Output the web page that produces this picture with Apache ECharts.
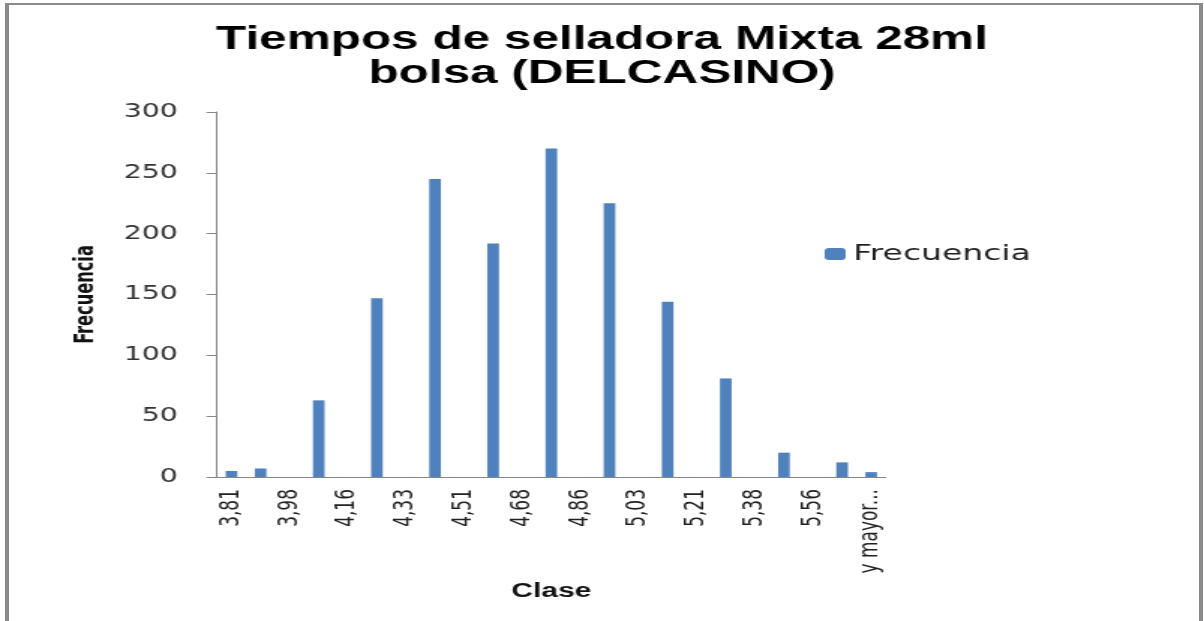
<!DOCTYPE html>
<html>
<head>
<meta charset="utf-8">
<script src="https://cdn.jsdelivr.net/npm/echarts@6/dist/echarts.min.js"></script>
<style>
html, body { margin: 0; padding: 0; background: #fff; overflow: hidden; }
.marco {
  position: absolute; left: 5px; top: 3px; width: 1198px; height: 700px;
  box-sizing: border-box;
  border-left: 4px solid #8a8a8a; border-top: 2px solid #8a8a8a; border-right: 4px solid #8a8a8a;
}
/* el grafico original sale estirado a lo ancho */
#grafico {
  position: absolute; left: 0; top: 0; width: 803px; height: 621px;
  transform: scaleX(1.4994); transform-origin: 0 0;
}
</style>
</head>
<body>
<div class="marco"></div>
<div id="grafico"></div>
<script>
// clases (limite superior de cada intervalo)
var clases = ['3,81', '3,90', '3,98', '4,07', '4,16', '4,25', '4,33', '4,42', '4,51', '4,60', '4,68', '4,77',
  '4,86', '4,95', '5,03', '5,12', '5,21', '5,30', '5,38', '5,47', '5,56', '5,65', 'y mayor...'];
// frecuencia por clase
var frecuencia = [5, 7, 0, 63, 0, 147, 0, 245, 0, 192, 0, 270, 0, 225, 0, 144, 0, 81, 0, 20, 0, 12, 4];
var ejeY = { min: 0, max: 300, paso: 50 };

var chart = echarts.init(document.getElementById('grafico'));

var option = {
  animation: false,
  title: {
    text: 'Tiempos de selladora Mixta 28ml\nbolsa (DELCASINO)',
    left: 'center',
    top: 18,
    textStyle: {
      fontFamily: 'Liberation Sans',
      fontWeight: 'bold',
      fontSize: 33,
      lineHeight: 34,
      color: '#000'
    }
  },
  legend: {
    data: ['Frecuencia'],
    left: 545,
    top: 238,
    itemWidth: 14,
    itemHeight: 12,
    textStyle: {
      fontFamily: 'DejaVu Sans',
      fontSize: 22,
      color: '#222'
    }
  },
  grid: {
    left: 144.7,
    right: 212.3,
    top: 112,
    bottom: 144
  },
  xAxis: {
    type: 'category',
    data: clases,
    name: 'Clase',
    nameLocation: 'middle',
    nameGap: 103,
    nameTextStyle: {
      fontFamily: 'Liberation Sans',
      fontWeight: 'bold',
      fontSize: 20,
      color: '#111'
    },
    axisLine: { lineStyle: { color: '#868686', width: 1 } },
    axisTick: { interval: 0, length: 5, lineStyle: { color: '#868686' } },
    axisLabel: {
      interval: 1,
      rotate: 90,
      margin: 12,
      fontFamily: 'DejaVu Sans',
      fontSize: 17,
      color: '#222'
    }
  },
  yAxis: {
    type: 'value',
    min: ejeY.min,
    max: ejeY.max,
    interval: ejeY.paso,
    name: 'Frecuencia',
    nameLocation: 'middle',
    nameGap: 78,
    nameRotate: 90,
    nameTextStyle: {
      fontFamily: 'DejaVu Sans Condensed, Liberation Sans, sans-serif',
      fontWeight: 'bold',
      fontSize: 18,
      color: '#111'
    },
    splitLine: { show: false },
    axisLine: { show: true, lineStyle: { color: '#868686', width: 1 } },
    axisTick: { show: true, length: 7, lineStyle: { color: '#868686' } },
    axisLabel: {
      margin: 26,
      fontFamily: 'DejaVu Sans',
      fontSize: 19,
      color: '#333'
    }
  },
  series: [
    {
      name: 'Frecuencia',
      type: 'bar',
      barWidth: '40%',
      itemStyle: { color: '#4F81BD' },
      data: frecuencia
    }
  ]
};

chart.setOption(option);
</script>
</body>
</html>
